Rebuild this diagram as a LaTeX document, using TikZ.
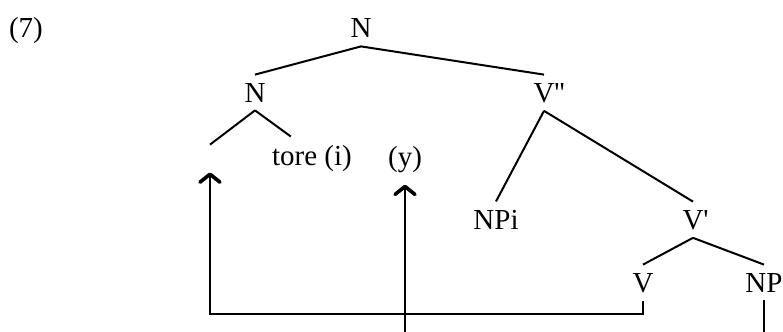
\documentclass[tikz,border=0pt]{standalone}
\usepackage{fontspec}
\setmainfont{Liberation Serif}
\usepackage{tikz}
\usetikzlibrary{arrows.meta, positioning, calc}

\tikzset{
    cat/.style={inner sep=4pt, anchor=base, font=\fontsize{14.5}{17}\selectfont},
    branch/.style={line width=1pt},
    move/.style={line width=0.8pt, -{Straight Barb[length=4pt,width=10pt,line width=1.8pt,round]}}
}

\begin{document}
\begin{tikzpicture}[x=0.5pt, y=-0.5pt]
    \useasboundingbox (0,0) rectangle (783,332);

    % Example number
    \node[cat] (num) at (26,38) {(7)};

    % Upper tree
    \node[cat] (root) at (361,38) {N};
    \node[cat] (nsub) at (255,102) {N};
    \node[cat] (vbar) at (544,102) {V\rlap{\textquotesingle\textquotesingle}};
    \node[minimum height=13.5pt, inner sep=0pt] (gap) at (210,158.5) {};
    \node[cat] (tore) at (312,165) {tore (i)};
    \node[cat] (yy) at (405,166) {(y)};

    % Lower tree
    \node[cat] (npi) at (496,229) {NPi};
    \node[cat] (vone) at (693,229) {V\rlap{\textquotesingle}};
    \node[cat] (verb) at (643,292) {V};
    \node[cat] (np) at (764,292) {NP};

    % Branches
    \draw[branch] (root.south) -- (nsub.north);
    \draw[branch] (root.south) -- (vbar.north);
    \draw[branch] (nsub.south) -- (gap.north);
    \draw[branch] (nsub.south) -- ($(tore.north west)!0.28!(tore.north east)$);
    \draw[branch] (vbar.south) -- (npi.north);
    \draw[branch] (vbar.south) -- (vone.north);
    \draw[branch] (vone.south) -- (verb.north);
    \draw[branch] (vone.south) -- (np.north);

    % Movement lines
    \coordinate (floor) at (0,314);
    \coordinate (under) at (0,336);
    \draw[move] (verb.south) -- (verb.south |- floor) -| (gap.south);
    \draw[move] (np.south) -- (np.south |- under) -| ([yshift=-2pt]yy.south);
\end{tikzpicture}
\end{document}
